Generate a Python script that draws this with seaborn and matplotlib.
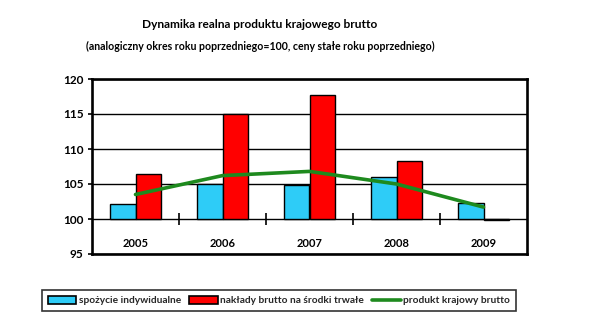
import matplotlib
matplotlib.use("Agg")
import matplotlib.pyplot as plt
from matplotlib.patches import Patch
from matplotlib.lines import Line2D
from matplotlib.ticker import FixedLocator, FuncFormatter
import seaborn as sns
import pandas as pd

# Indices, same period of previous year = 100
years = ["2005", "2006", "2007", "2008", "2009"]
consumption = [102.1, 105.0, 104.9, 106.0, 102.3]
investment = [106.5, 115.0, 117.7, 108.3, 99.8]
gdp = [103.5, 106.2, 106.8, 105.0, 101.7]

series_names = ["spożycie indywidualne", "nakłady brutto na środki trwałe", "produkt krajowy brutto"]
title = "Dynamika realna produktu krajowego brutto"
subtitle = "(analogiczny okres roku poprzedniego=100, ceny stałe roku poprzedniego)"
y_ticks = [95, 100, 105, 110, 115, 120]

BASE = 100
col_blue = "#2ECCF7"
col_red = "#FF0000"
col_green = "#1E8A1E"

sns.set_theme(style="white")
plt.rcParams["font.family"] = ["Lato", "DejaVu Sans"]
plt.rcParams["font.weight"] = "bold"

# bars grow from the 100 baseline, so plot the deviation from it
bars = pd.DataFrame({
    "rok": years * 2,
    "seria": [series_names[0]] * len(years) + [series_names[1]] * len(years),
    "odchylenie": [v - BASE for v in consumption] + [v - BASE for v in investment],
})
line = pd.DataFrame({"rok": years, "odchylenie": [v - BASE for v in gdp]})

fig = plt.figure(figsize=(6.0, 3.27), dpi=100)
ax = fig.add_axes([92 / 600, 1 - 254 / 327, 435 / 600, 175 / 327])

sns.barplot(data=bars, x="rok", y="odchylenie", hue="seria",
            palette=[col_blue, col_red], width=0.575, edgecolor="black",
            linewidth=1.0, saturation=1, legend=False, ax=ax, zorder=3)
sns.pointplot(data=line, x="rok", y="odchylenie", color=col_green,
              markers="", linestyles="-", errorbar=None, ax=ax,
              linewidth=2.6, zorder=4)

ax.set_xlim(-0.5, len(years) - 0.5)
ax.set_ylim(y_ticks[0] - BASE, y_ticks[-1] - BASE)
ax.yaxis.set_major_locator(FixedLocator([t - BASE for t in y_ticks]))
ax.yaxis.set_major_formatter(FuncFormatter(lambda v, p: f"{v + BASE:.0f}"))
ax.grid(axis="y", color="black", linewidth=1.0, zorder=1)
ax.set_axisbelow(True)
ax.set_xlabel("")
ax.set_ylabel("")
ax.tick_params(axis="y", which="major", left=True, length=3, width=1.2,
               color="black", labelsize=8.5, pad=3, labelcolor="black")
for lab in ax.get_yticklabels():
    lab.set_fontweight("bold")
ax.tick_params(axis="x", bottom=False, labelbottom=False)
for s in ax.spines.values():
    s.set_visible(True)
    s.set_color("black")
    s.set_linewidth(1.9)

# category axis crossing at 100
sec = ax.secondary_xaxis((BASE - y_ticks[0]) / (y_ticks[-1] - y_ticks[0]))
sec.set_xticks(range(len(years)))
sec.set_xticklabels(years, fontsize=8, fontweight="bold")
sec.set_xticks([i + 0.5 for i in range(len(years) - 1)], minor=True)
sec.tick_params(axis="x", which="major", length=0, pad=14, labelcolor="black")
sec.tick_params(axis="x", which="minor", length=8, width=1.2, direction="inout", color="black")
sec.spines["bottom"].set_visible(False)

fig.text(260 / 600, 1 - 25 / 327, title, ha="center", va="center",
         fontsize=8.6, fontweight="bold", color="black")
fig.text(260 / 600, 1 - 46 / 327, subtitle, ha="center", va="center",
         fontsize=7.6, fontweight="bold", color="black")

handles = [
    Patch(facecolor=col_blue, edgecolor="black", linewidth=1.2),
    Patch(facecolor=col_red, edgecolor="black", linewidth=1.2),
    Line2D([0], [0], color=col_green, linewidth=2.6),
]
leg = fig.legend(handles, series_names, loc="center", ncol=3,
                 bbox_to_anchor=(279 / 600, 1 - 300.5 / 327),
                 frameon=True, fancybox=False, edgecolor="black",
                 prop={"size": 7.3, "weight": "bold"}, handlelength=2.8,
                 handleheight=0.8, handletextpad=0.25, columnspacing=0.8,
                 borderpad=0.55)
leg.get_frame().set_linewidth(1.2)

fig.savefig("out.png", dpi=100, facecolor="white")
